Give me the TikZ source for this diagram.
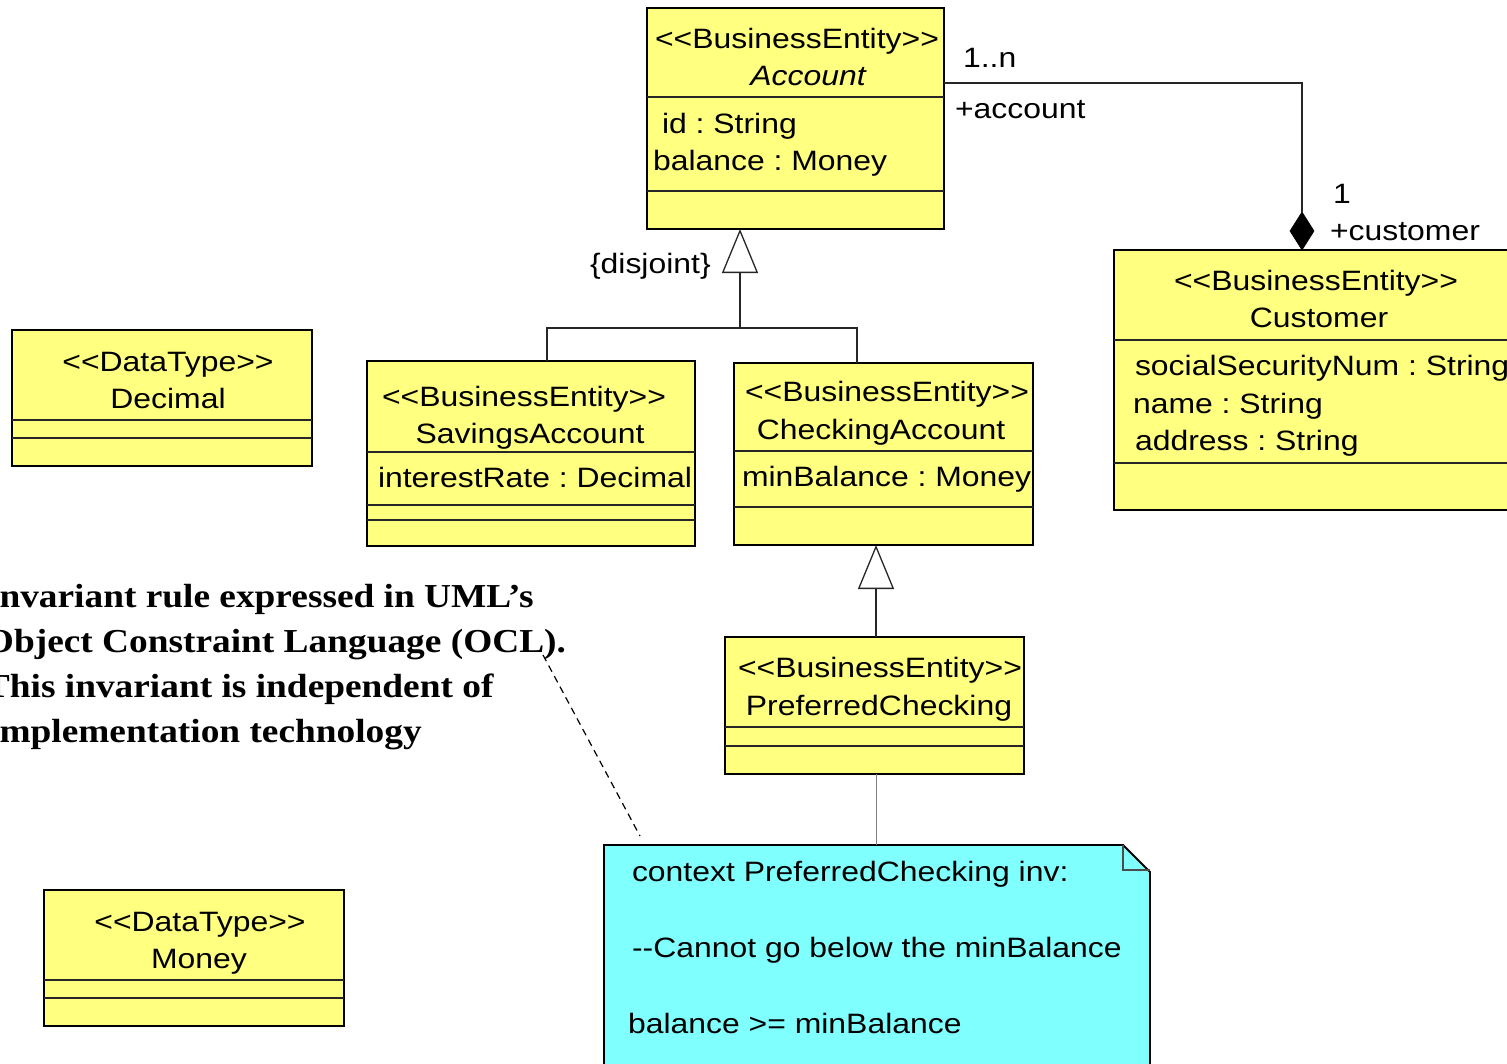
\documentclass[tikz,border=0pt]{standalone}
\usepackage{fontspec}
\setmainfont{Liberation Sans}[FakeStretch=1.14, Ligatures=TeXOff]
\newfontfamily\notefont{Liberation Serif}[FakeStretch=1.115]
\usetikzlibrary{arrows.meta,shapes.geometric}
\definecolor{clsyellow}{HTML}{FFFF80}
\definecolor{notecyan}{HTML}{80FFFF}
\frenchspacing
\tikzset{
  cls/.style={rectangle, draw=black, line width=1.8pt, fill=clsyellow, inner sep=0pt, outer sep=0pt},
  div/.style={line width=1.2pt, draw=black!85},
  txt/.style={inner sep=0pt, outer sep=0pt, font=\fontsize{28}{34}\selectfont},
  lt/.style={txt, anchor=base west},
  ct/.style={txt, anchor=base},
  bt/.style={inner sep=0pt, outer sep=0pt, anchor=base west, font=\notefont\bfseries\fontsize{33.5}{45}\selectfont},
  conn/.style={line width=1.3pt, draw=black!85},
  gen/.style={conn, -{Triangle[open, length=44pt, width=36pt, line width=1.3pt]}},
}
\begin{document}
\begin{tikzpicture}[x=1pt, y=-1pt]
\useasboundingbox (0,0) rectangle (1507,1063);
\clip (0,0) rectangle (1507,1063);

% ---------- Account ----------
\node[cls, minimum width=297pt, minimum height=221pt] (acc) at (795.5,118.5) {};
\draw[div] ([yshift=-89pt]acc.north west) -- ([yshift=-89pt]acc.north east);
\draw[div] ([yshift=-183pt]acc.north west) -- ([yshift=-183pt]acc.north east);
\node[ct] (accst) at (797,48) {<<BusinessEntity>>};
\node[ct] (accnm) at (808,85) {\itshape Account};
\node[lt] (acca1) at (662,133) {id : String};
\node[lt] (acca2) at (653,170) {balance : Money};

% ---------- Customer ----------
\node[cls, minimum width=416pt, minimum height=260pt] (cust) at (1322,380) {};
\draw[div] ([yshift=-90pt]cust.north west) -- ([yshift=-90pt]cust.north east);
\draw[div] ([yshift=-213pt]cust.north west) -- ([yshift=-213pt]cust.north east);
\node[ct] (custst) at (1316,290) {<<BusinessEntity>>};
\node[ct] (custnm) at (1319,327) {Customer};
\node[lt] (custa1) at (1135,375) {socialSecurityNum : String};
\node[lt] (custa2) at (1133,413) {name : String};
\node[lt] (custa3) at (1135,450) {address : String};

% ---------- SavingsAccount ----------
\node[cls, minimum width=328pt, minimum height=185pt] (sav) at (531,453.5) {};
\draw[div] ([yshift=-91pt]sav.north west) -- ([yshift=-91pt]sav.north east);
\draw[div] ([yshift=-144pt]sav.north west) -- ([yshift=-144pt]sav.north east);
\draw[div] ([yshift=-159pt]sav.north west) -- ([yshift=-159pt]sav.north east);
\node[ct] (savst) at (524,406) {<<BusinessEntity>>};
\node[ct] (savnm) at (530,443) {SavingsAccount};
\node[lt] (sava1) at (378,487) {interestRate : Decimal};

% ---------- CheckingAccount ----------
\node[cls, minimum width=299pt, minimum height=182pt] (chk) at (883.5,454) {};
\draw[div] ([yshift=-88pt]chk.north west) -- ([yshift=-88pt]chk.north east);
\draw[div] ([yshift=-144pt]chk.north west) -- ([yshift=-144pt]chk.north east);
\node[ct] (chkst) at (887,401) {<<BusinessEntity>>};
\node[ct] (chknm) at (881,439) {CheckingAccount};
\node[lt] (chka1) at (742,486) {minBalance : Money};

% ---------- PreferredChecking ----------
\node[cls, minimum width=299pt, minimum height=137pt] (pref) at (874.5,705.5) {};
\draw[div] ([yshift=-90pt]pref.north west) -- ([yshift=-90pt]pref.north east);
\draw[div] ([yshift=-109pt]pref.north west) -- ([yshift=-109pt]pref.north east);
\node[ct] (prefst) at (880,677) {<<BusinessEntity>>};
\node[ct] (prefnm) at (879,715) {PreferredChecking};

% ---------- Decimal ----------
\node[cls, minimum width=300pt, minimum height=136pt] (dec) at (162,398) {};
\draw[div] ([yshift=-90pt]dec.north west) -- ([yshift=-90pt]dec.north east);
\draw[div] ([yshift=-108pt]dec.north west) -- ([yshift=-108pt]dec.north east);
\node[ct] (decst) at (168,371) {<<DataType>>};
\node[ct] (decnm) at (168,408) {Decimal};

% ---------- Money ----------
\node[cls, minimum width=300pt, minimum height=136pt] (mon) at (194,958) {};
\draw[div] ([yshift=-90pt]mon.north west) -- ([yshift=-90pt]mon.north east);
\draw[div] ([yshift=-108pt]mon.north west) -- ([yshift=-108pt]mon.north east);
\node[ct] (monst) at (200,931) {<<DataType>>};
\node[ct] (monnm) at (199,968) {Money};

% ---------- Note ----------
\node[rectangle, inner sep=0pt, outer sep=0pt, minimum width=546pt, minimum height=245pt] (note) at (877,967.5) {};
\draw[line width=1.8pt, fill=notecyan] (note.north west) -- ([xshift=-27pt]note.north east)
  -- ([yshift=-27pt]note.north east) -- (note.south east) -- (note.south west) -- cycle;
\draw[line width=1.2pt, draw=black!70] ([xshift=-27pt]note.north east) -- ([xshift=-27pt, yshift=-25pt]note.north east)
  -- ([yshift=-25pt]note.north east);
\node[lt] (n1) at (632,881) {context PreferredChecking inv:};
\node[lt] (n2) at (632,957) {--Cannot go below the minBalance};
\node[lt] (n3) at (628,1033) {balance >= minBalance};

% ---------- Association ----------
\node[diamond, fill=black, draw=black, line width=0.6pt, inner sep=0pt, outer sep=0pt, minimum width=24pt, minimum height=38pt] (dia) at (1302,231) {};
\draw[conn] ([yshift=-75pt]acc.north east) -| (dia.north);
\node[lt] (m1) at (963,67) {1..n};
\node[lt] (r1) at (955,118) {+account};
\node[lt] (m2) at (1333,203) {1};
\node[lt] (r2) at (1330,240) {+customer};

% ---------- Generalizations ----------
\coordinate (j1) at (740,328);
\draw[gen] (j1) -- (j1 |- acc.south);
\draw[conn] ([xshift=16pt]sav.north) |- ([xshift=-26.5pt]chk.north |- j1) -- ([xshift=-26.5pt]chk.north);
\node[lt] (disj) at (590,273) {\{disjoint\}};
\draw[gen] ([xshift=1.5pt]pref.north) -- ([xshift=1.5pt]pref.north |- chk.south);

% ---------- Note links ----------
\draw[line width=1pt, draw=black!50] ([xshift=1.5pt]pref.south) -- ([xshift=1.5pt]pref.south |- note.north);
\coordinate (d1) at (543,655);
\coordinate (d2) at (640,836);
\draw[line width=1.2pt, dashed, dash pattern=on 7pt off 5pt] (d1) -- (d2);

% ---------- Free text ----------
\node[bt] (t1) at (-15,607) {Invariant rule expressed in UML’s};
\node[bt] (t2) at (-15,652) {Object Constraint Language (OCL).};
\node[bt] (t3) at (-15,697) {This invariant is independent of};
\node[bt] (t4) at (-15,742) {Implementation technology};
\end{tikzpicture}
\end{document}
